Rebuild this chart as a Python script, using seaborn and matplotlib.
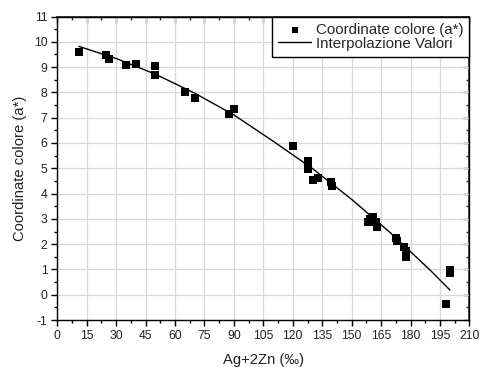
import matplotlib
matplotlib.use("Agg")
import matplotlib.pyplot as plt
from matplotlib.ticker import MultipleLocator
import seaborn as sns
import pandas as pd

# Measured colour coordinate a* against Ag+2Zn content
ag_zn = [11.2, 24.8, 26.2, 35.0, 40.1, 49.9, 49.9, 65.1, 70.0, 87.7, 89.9,
         120.0, 127.6, 127.6, 130.2, 132.7, 139.3, 140.2,
         158.5, 159.4, 161.1, 162.8, 162.4, 172.6, 173.0, 176.9, 177.6, 177.7,
         197.8, 200.2, 200.2]
a_star = [9.60, 9.46, 9.31, 9.08, 9.13, 9.05, 8.69, 8.00, 7.78, 7.16, 7.33,
          5.90, 5.30, 4.97, 4.55, 4.63, 4.47, 4.31,
          2.87, 3.00, 3.07, 2.67, 2.89, 2.25, 2.12, 1.90, 1.71, 1.51,
          -0.36, 0.96, 0.85]

# Interpolating curve
fit_x = [11, 30, 50, 70, 90, 110, 130, 150, 170, 190, 200]
fit_y = [9.82, 9.34, 8.72, 7.97, 7.11, 6.07, 4.99, 3.77, 2.43, 0.97, 0.19]

x_ticks = list(range(0, 211, 15))
y_ticks = list(range(-1, 12))

points = pd.DataFrame({"x": ag_zn, "y": a_star})
curve = pd.DataFrame({"x": fit_x, "y": fit_y})

sns.set_theme(style="white")
plt.rcParams["font.family"] = ["Liberation Sans", "DejaVu Sans"]
plt.rcParams["axes.unicode_minus"] = False

fig = plt.figure(figsize=(4.81, 3.67), dpi=100)
ax = fig.add_axes([0.119, 0.128, 0.857, 0.827])

sns.scatterplot(data=points, x="x", y="y", marker="s", s=32, color="black",
                edgecolor="black", linewidth=0, ax=ax,
                label="Coordinate colore (a*)", zorder=3)
sns.lineplot(data=curve, x="x", y="y", color="black", linewidth=1.0, ax=ax,
             label="Interpolazione Valori", zorder=2)

ax.set_xlim(0, 210)
ax.set_ylim(-1, 11)
ax.set_xticks(x_ticks)
ax.set_yticks(y_ticks)
ax.xaxis.set_minor_locator(MultipleLocator(7.5))
ax.yaxis.set_minor_locator(MultipleLocator(0.5))

ax.grid(True, which="major", color="#d8d8d8", linewidth=0.9)
ax.set_axisbelow(True)
for sp in ax.spines.values():
    sp.set_color("black")
    sp.set_linewidth(1.0)

ax.tick_params(which="both", direction="out", bottom=True, left=True,
               top=False, right=False, colors="black", labelsize=8.7,
               labelcolor="#222222")
ax.tick_params(which="major", length=4, width=1.0, pad=3)
ax.tick_params(which="minor", length=2.5, width=1.0)

# Inward ticks mirrored on the top and right edges
top = ax.secondary_xaxis("top")
top.set_xticks(x_ticks)
top.xaxis.set_minor_locator(MultipleLocator(7.5))
top.tick_params(which="both", direction="in", labeltop=False, width=1.0)
top.tick_params(which="major", length=4)
top.tick_params(which="minor", length=2.5)
right = ax.secondary_yaxis("right")
right.set_yticks(y_ticks)
right.yaxis.set_minor_locator(MultipleLocator(0.5))
right.tick_params(which="both", direction="in", labelright=False, width=1.0)
right.tick_params(which="major", length=4)
right.tick_params(which="minor", length=2.5)

ax.set_xlabel("Ag+2Zn (\u2030)", fontsize=10.6, labelpad=8, color="#222222")
ax.set_ylabel("Coordinate colore (a*)", fontsize=10.6, labelpad=5, color="#222222")

leg = ax.legend(loc="upper right", bbox_to_anchor=(1.0, 1.0), fontsize=10.9,
                frameon=True, fancybox=False, framealpha=1, edgecolor="black",
                borderaxespad=0, borderpad=0.4, handlelength=2.2,
                handletextpad=0.3, labelspacing=0.0, markerscale=0.8)
leg.get_frame().set_linewidth(1.0)

fig.savefig("out.png", dpi=100)
